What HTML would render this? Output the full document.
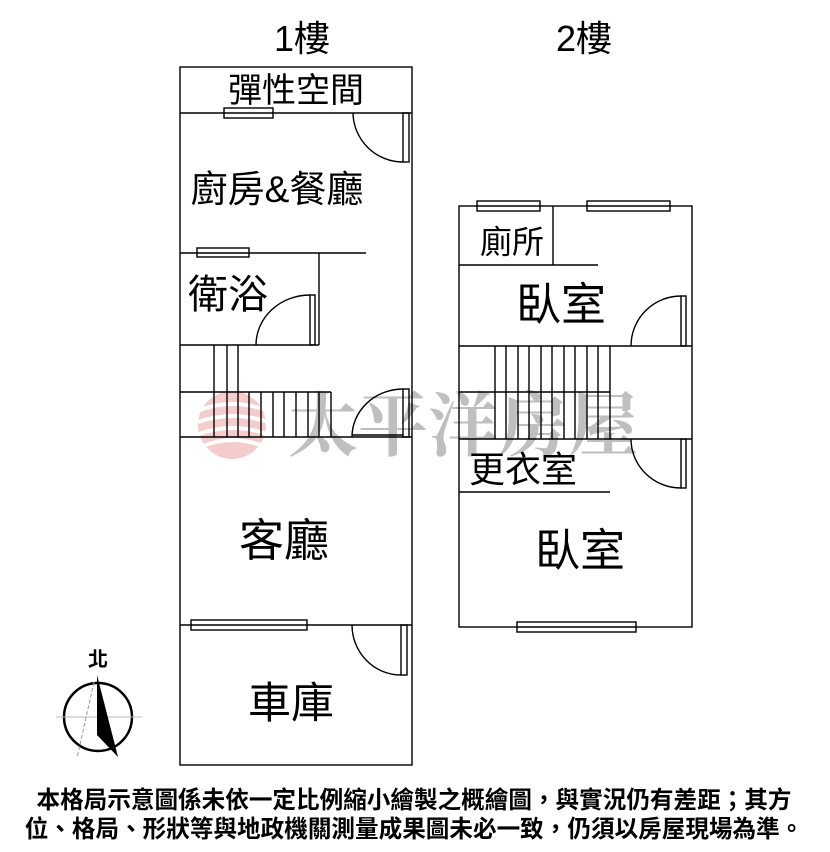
<!DOCTYPE html>
<html><head><meta charset="utf-8"><style>
html,body{margin:0;padding:0;background:#fff;}
body{width:830px;height:852px;position:relative;overflow:hidden;}
svg{position:absolute;left:0;top:0;}
</style></head><body>
<svg width="830" height="852" viewBox="0 0 830 852" xmlns="http://www.w3.org/2000/svg">
<g opacity="0.85">
<circle cx="232" cy="425" r="34" fill="#f4c4c4"/>
<g stroke="#fff" stroke-width="4" fill="none">
<path d="M200 410 Q232 398 266 410"/><path d="M198 422 Q232 410 268 422"/><path d="M199 434 Q232 422 267 434"/><path d="M203 446 Q232 434 263 446"/>
</g>
</g>
<text x="463" y="450" font-family="'Noto Serif CJK SC','Liberation Serif',serif" font-size="70" font-weight="bold" fill="#bfbfbf" text-anchor="middle">太平洋房屋</text>

<g stroke="#000" stroke-width="1.4" fill="none">
<rect x="180" y="67" width="232" height="698"/>
<line x1="180" y1="113" x2="412" y2="113"/>
<rect x="224" y="108" width="49" height="10" fill="#fff"/>
<line x1="224" y1="113" x2="273" y2="113"/>
<path d="M353 113 A50 50 0 0 0 403 162"/>
<rect x="403" y="113" width="6" height="49"/>
<line x1="180" y1="253" x2="366" y2="253"/>
<rect x="197" y="248" width="52" height="9" fill="#fff"/>
<line x1="197" y1="253" x2="249" y2="253"/>
<line x1="319" y1="253" x2="319" y2="345"/>
<path d="M256 345 A54 50 0 0 1 310 295"/>
<rect x="310" y="295" width="5" height="50"/>
<line x1="180" y1="345" x2="319" y2="345"/>
<line x1="180" y1="392" x2="331" y2="392"/>
<line x1="214" y1="345" x2="214" y2="437"/>
<line x1="227" y1="345" x2="227" y2="437"/>
<line x1="238" y1="345" x2="238" y2="437"/>
<line x1="249" y1="392" x2="249" y2="437"/>
<line x1="261" y1="392" x2="261" y2="437"/>
<line x1="273" y1="392" x2="273" y2="437"/>
<line x1="284" y1="392" x2="284" y2="437"/>
<line x1="296" y1="392" x2="296" y2="437"/>
<line x1="308" y1="392" x2="308" y2="437"/>
<line x1="319" y1="392" x2="319" y2="437"/>
<line x1="331" y1="392" x2="331" y2="437"/>
<line x1="180" y1="437" x2="412" y2="437"/>
<path d="M352 437 A51 48 0 0 1 403 389"/>
<rect x="403" y="389" width="6" height="48"/>
<line x1="352" y1="435" x2="403" y2="435"/>
<line x1="180" y1="625" x2="412" y2="625"/>
<rect x="191" y="620" width="116" height="10" fill="#fff"/>
<line x1="191" y1="625" x2="307" y2="625"/>
<path d="M352 625 A49 50 0 0 0 401 675"/>
<rect x="401" y="625" width="6" height="50"/>
<rect x="459" y="206" width="233" height="421"/>
<rect x="477" y="201" width="63" height="10" fill="#fff"/>
<line x1="477" y1="206" x2="540" y2="206"/>
<rect x="587" y="201" width="83" height="10" fill="#fff"/>
<line x1="587" y1="206" x2="670" y2="206"/>
<line x1="553" y1="206" x2="553" y2="265"/>
<line x1="459" y1="265" x2="598" y2="265"/>
<path d="M631 346 A50 50 0 0 1 681 296"/>
<rect x="681" y="296" width="5" height="50"/>
<line x1="459" y1="346" x2="692" y2="346"/>
<line x1="459" y1="392" x2="610" y2="392"/>
<line x1="495" y1="346" x2="495" y2="439"/>
<line x1="506" y1="346" x2="506" y2="439"/>
<line x1="518" y1="346" x2="518" y2="439"/>
<line x1="529" y1="346" x2="529" y2="439"/>
<line x1="541" y1="346" x2="541" y2="439"/>
<line x1="552" y1="346" x2="552" y2="439"/>
<line x1="564" y1="346" x2="564" y2="439"/>
<line x1="575" y1="346" x2="575" y2="439"/>
<line x1="587" y1="346" x2="587" y2="439"/>
<line x1="598" y1="346" x2="598" y2="439"/>
<line x1="610" y1="346" x2="610" y2="439"/>
<line x1="459" y1="439" x2="692" y2="439"/>
<path d="M631 439 A50 49 0 0 0 681 488"/>
<rect x="681" y="439" width="5" height="49"/>
<line x1="459" y1="492" x2="610" y2="492"/>
<rect x="517" y="622" width="119" height="10" fill="#fff"/>
<line x1="517" y1="627" x2="636" y2="627"/>
<circle cx="98" cy="717" r="34" stroke-width="2.5"/>
<line x1="56" y1="717" x2="142" y2="717" stroke="#bbb" stroke-width="1"/>
<line x1="94" y1="682" x2="77" y2="758" stroke="#999" stroke-width="1" stroke-dasharray="4 2"/>
</g>
<polygon points="97,675 118,757 97,735" fill="#000"/>
<text x="98" y="666" font-family="'Liberation Sans','Noto Sans CJK TC',sans-serif" font-size="20" font-weight="bold" text-anchor="middle">北</text>

<g font-family="'Liberation Sans','Noto Sans CJK TC',sans-serif" fill="#000">
<text x="302" y="51" font-size="36" text-anchor="middle">1樓</text>
<text x="584" y="51" font-size="36" text-anchor="middle">2樓</text>
<text x="296" y="102" font-size="34" text-anchor="middle">彈性空間</text>
<text x="277" y="202" font-size="37" text-anchor="middle">廚房&amp;餐廳</text>
<text x="228" y="308" font-size="40" text-anchor="middle">衛浴</text>
<text x="512" y="253" font-size="32" text-anchor="middle">廁所</text>
<text x="561" y="320" font-size="45" text-anchor="middle">臥室</text>
<text x="523" y="482" font-size="36" text-anchor="middle">更衣室</text>
<text x="580" y="566" font-size="45" text-anchor="middle">臥室</text>
<text x="284" y="556" font-size="45" text-anchor="middle">客廳</text>
<text x="291" y="718" font-size="43" text-anchor="middle">車庫</text>
<text x="414" y="808" font-size="23.6" font-weight="bold" text-anchor="middle">本格局示意圖係未依一定比例縮小繪製之概繪圖，與實況仍有差距；其方</text>
<text x="414" y="837" font-size="23.6" font-weight="bold" text-anchor="middle">位、格局、形狀等與地政機關測量成果圖未必一致，仍須以房屋現場為準。</text>
</g>
</svg>
</body></html>
